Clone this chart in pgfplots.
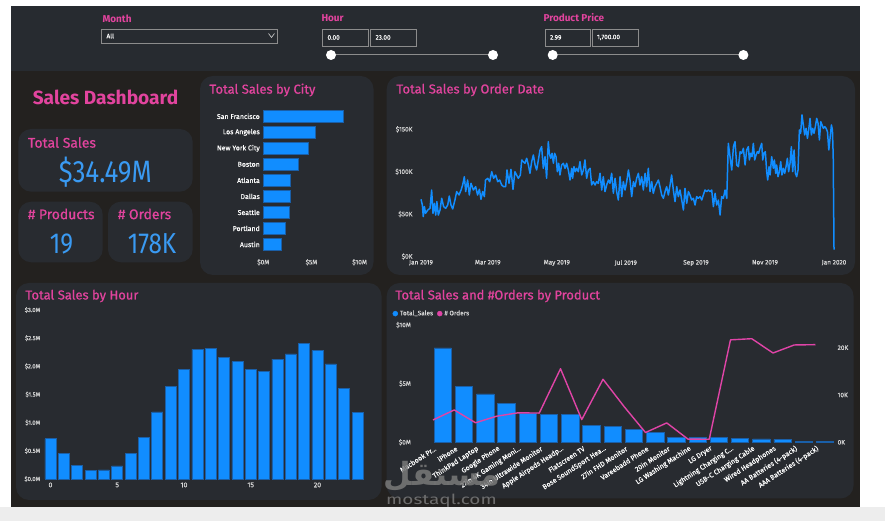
\documentclass[border=0pt]{standalone}
\usepackage{pgfplots}
\pgfplotsset{compat=1.18}
\usepackage{fontspec}
\setmainfont{Fira Sans}
\newfontfamily\titlefont[FakeBold=0.7]{Fira Sans}
\newfontfamily\tickfont[FakeBold=0.35]{Fira Sans}
\newfontfamily\arabicfont[Script=Arabic]{DejaVu Sans}
\TeXXeTstate=1
\definecolor{outerbg}{HTML}{EDEDED}
\definecolor{mainbg}{HTML}{23211F}
\definecolor{topbg}{HTML}{272B30}
\definecolor{cardbg}{HTML}{282B30}
\definecolor{pbipink}{HTML}{E044A7}
\definecolor{ttlpink}{HTML}{E2449E}
\definecolor{pbiblue}{HTML}{118DFF}
\definecolor{kpiblue}{HTML}{3A9AF2}
\definecolor{barline}{HTML}{1A5FA8}
\definecolor{lbl}{HTML}{D6D6D6}
\definecolor{boxline}{HTML}{8C8C8C}
\definecolor{wmark}{HTML}{7A7A7A}
\newcommand{\tdots}{.{}.{}.}
\pgfplotsset{
  dstyle/.style={
    scale only axis,
    anchor=south west,
    axis line style={draw=none},
    major tick length=0pt,
    tick style={draw=none},
    /pgf/number format/assume math mode=true,
    tick label style={font=\tickfont\fontsize{6.5}{7}\selectfont, text=lbl},
    enlargelimits=false,
    clip=false,
  }
}
\begin{document}
\begin{tikzpicture}
\begin{scope}[x=1bp,y=1bp]
\path[use as bounding box] (0,0) rectangle (885,521);
\fill[white] (0,0) rectangle (885,521);
\fill[outerbg] (0,0) rectangle (885,14);
\fill[mainbg] (11,14) rectangle (860,515);
\fill[topbg] (11,450) rectangle (860,515);
% filters
\node[anchor=west, text=ttlpink, font=\bfseries\fontsize{10}{11}\selectfont] at (99,502) {Month};
\draw[boxline, fill=topbg, line width=0.7bp] (101.5,478) rectangle (277.5,492);
\node[anchor=west, text=white, font=\tickfont\fontsize{6.5}{7}\selectfont] at (103,485) {All};
\draw[lbl, line width=0.6bp] (268.5,487.5) -- (271.5,483.5) -- (274.5,487.5);
\node[anchor=west, text=ttlpink, font=\bfseries\fontsize{10}{11}\selectfont] at (318,503) {Hour};
\draw[boxline, line width=0.7bp] (322.6,475) rectangle (368.3,492);
\draw[boxline, line width=0.7bp] (370.6,475) rectangle (416.8,492);
\node[anchor=west, text=white, font=\tickfont\fontsize{6.5}{7}\selectfont] at (324,483.5) {0.00};
\node[anchor=west, text=white, font=\tickfont\fontsize{6.5}{7}\selectfont] at (372,483.5) {23.00};
\draw[boxline, line width=1bp] (331,466) -- (493,466);
\fill[white] (331,466) circle (5); \fill[white] (493,466) circle (5);
\node[anchor=west, text=ttlpink, font=\bfseries\fontsize{10}{11}\selectfont] at (540,503) {Product Price};
\draw[boxline, line width=0.7bp] (545,475) rectangle (590,492);
\draw[boxline, line width=0.7bp] (592,475) rectangle (638.5,492);
\node[anchor=west, text=white, font=\tickfont\fontsize{6.5}{7}\selectfont] at (546.5,483.5) {2.99};
\node[anchor=west, text=white, font=\tickfont\fontsize{6.5}{7}\selectfont] at (593.5,483.5) {1,700.00};
\draw[boxline, line width=1bp] (552.7,466) -- (743.4,466);
\fill[white] (552.7,466) circle (5); \fill[white] (743.4,466) circle (5);
% cards
\fill[cardbg, rounded corners=13bp] (18.3,329.3) rectangle (192.7,392);
\fill[cardbg, rounded corners=13bp] (18.3,258.7) rectangle (102.7,319.3);
\fill[cardbg, rounded corners=13bp] (108,258.7) rectangle (192.7,319.3);
\fill[cardbg, rounded corners=13bp] (200,246) rectangle (373.5,445);
\fill[cardbg, rounded corners=13bp] (386.7,246) rectangle (855,445);
\fill[cardbg, rounded corners=13bp] (16,21) rectangle (381.5,238);
\fill[cardbg, rounded corners=13bp] (386.7,22.5) rectangle (853.5,238);
% KPI texts
\node[text=ttlpink, font=\bfseries\fontsize{19.2}{21}\selectfont] at (105.5,423.5) {Sales Dashboard};
\node[anchor=west, text=ttlpink, font=\titlefont\fontsize{14}{16}\selectfont] at (24.5,378.5) {Total Sales};
\node[text=kpiblue, font=\fontsize{31}{33}\selectfont] at (105.3,349) {\scalebox{0.84}[1]{\$34.49M}};
\node[anchor=west, text=ttlpink, font=\titlefont\fontsize{14}{16}\selectfont] at (24.5,307) {\# Products};
\node[text=kpiblue, font=\fontsize{29}{31}\selectfont] at (61.5,277) {\scalebox{0.84}[1]{19}};
\node[anchor=west, text=ttlpink, font=\titlefont\fontsize{14}{16}\selectfont] at (114.5,307) {\# Orders};
\node[text=kpiblue, font=\fontsize{29}{31}\selectfont] at (152,277) {\scalebox{0.84}[1]{178K}};
% chart titles
\node[anchor=west, text=ttlpink, font=\titlefont\fontsize{13}{15}\selectfont] at (206,431) {Total Sales by City};
\node[anchor=west, text=ttlpink, font=\titlefont\fontsize{13}{15}\selectfont] at (393,431) {Total Sales by Order Date};
\node[anchor=west, text=ttlpink, font=\titlefont\fontsize{13}{15}\selectfont] at (22,225) {Total Sales by Hour};
\node[anchor=west, text=ttlpink, font=\titlefont\fontsize{13}{15}\selectfont] at (392,225) {Total Sales and \#Orders by Product};
\end{scope}

% City
\begin{axis}[dstyle, at={(263.3bp,268.5bp)}, width=96.3bp, height=144.2bp,
  xmin=0, xmax=10, ymin=-0.5, ymax=8.5,
  xbar, bar width=12.5bp,
  ytick={0,1,2,3,4,5,6,7,8},
  yticklabels={Austin,Portland,Seattle,Dallas,Atlanta,Boston,New York City,Los Angeles,San Francisco},
  xtick={0,5,10}, xticklabels={\$0M,\$5M,\$10M},
  xticklabel style={yshift=-3bp},
  yticklabel style={font=\tickfont\fontsize{7}{8}\selectfont, text=white},
]
\addplot[fill=pbiblue, draw=barline, line width=0.6bp] coordinates {(1.82,0) (2.32,1) (2.75,2) (2.77,3) (2.80,4) (3.66,5) (4.66,6) (5.45,7) (8.26,8)};
\end{axis}

% Order date
\begin{axis}[dstyle, at={(421bp,264.5bp)}, width=413bp, height=148.4bp,
  xmin=0, xmax=365, ymin=0, ymax=175,
  xtick={0,59,120,181,243,304,365},
  xticklabels={Jan 2019,Mar 2019,May 2019,Jul 2019,Sep 2019,Nov 2019,Jan 2020},
  ytick={0,50,100,150}, yticklabels={\$0K,\$50K,\$100K,\$150K},
  yticklabel style={xshift=-5bp},
]
\addplot[pbiblue, line width=1.5bp, line join=round] table {
0 67.4
1.2 60.7
2 47
3 58.8
4 50.9
6 54.8
8 56.8
9.4 78.4
10.6 50.9
11.8 62.7
13 48.9
14 64.7
15.3 48.9
16.8 54.8
18.3 68.6
20 58.8
21.8 56.8
23.6 60.7
25 71.3
26.5 60.7
28 56
30 66.6
31.5 76.5
33.6 72.5
35.4 78.4
36.8 84.3
38.3 94.1
39.5 76.5
41.2 90.2
42.7 72.5
44.2 86.3
46.3 78.4
48.3 82.3
50 72.5
51.6 79.2
53 67.4
54.5 76.5
56 70.6
57 90.2
59 92.2
60.7 88.2
62.5 100
64.2 92.2
66 96.1
67.8 88.2
69.5 90.2
71.3 84.3
73 82.3
74.8 82.3
76 102
77.8 86.3
79.5 102.8
81.3 79.2
83 100
84.5 96.1
86 92.2
87.8 96.1
89 113.8
90.4 111.8
91.9 109.9
93.4 115.8
94.9 107.9
96.3 98.1
97.8 111.8
99.3 119.7
100.8 107.9
102.2 102
103.7 113.8
105.2 125.6
106.6 129.5
108.1 104
109.6 117.7
111 92.2
112.5 135.4
113.4 121.7
114.6 115.8
115.8 121.7
117 109.9
118.1 121.7
119.3 117.7
120.5 100
121.7 109.9
122.8 96.1
124.3 107.9
125.8 109.9
127.3 104
128.7 109.9
130.2 102
131.7 90.2
133.2 104
134 92.2
135.2 105.9
136.4 100
137.6 104
139 100
140.5 111.8
142 96.1
143.5 102
144.9 113.8
146.4 92.2
147.9 102
149.4 104
150.8 84.3
152.3 88.2
153.8 84.3
155.2 88.2
156.7 86.3
158.2 98.1
159.7 78.4
161.1 94.1
162.6 76.5
164.1 84.3
165.6 90.2
167 86.3
168.5 98.1
170 74.5
171.5 92.2
172.9 76.5
174.4 66.6
175.9 94.1
177.4 70.6
178.8 88.2
180.3 78.4
181.8 88.2
183.3 102
184.7 90.2
186.2 70.6
187.7 88.2
189.1 82.3
190.6 92.2
192.1 98.1
193.5 84.3
195 94.1
196.5 78.4
198 98.1
199.4 82.3
200.9 104
202.4 76.5
203.9 88.2
205.3 74.5
206.8 82.3
208.3 86.3
209.8 90.2
211.2 82.3
212.7 72.5
214.2 68.6
215.7 76.5
217.1 82.3
218.6 72.5
220.1 84.3
221.5 96.1
223 78.4
224.5 64.7
226 82.3
227.4 70.6
228.9 78.4
230.4 66.6
231.9 54.8
233.3 80.4
234.8 62.7
236.3 76.5
237.7 72.5
239.2 66.6
240.7 68.6
242.2 60.7
243.6 70.6
245.1 68.6
246.6 70.6
248.1 66.6
249.5 72.5
251 78.4
252.5 76.5
254 78.4
255.4 76.5
256.9 78.4
258.4 58.8
259.9 74.5
261.3 60.7
262.8 66.6
264.3 48.9
265.7 70.6
267.2 68.6
268.7 78.4
270.2 68.6
271.6 133.4
273.1 117.7
274.6 102
276.1 129.5
277.5 135.4
279 107.9
280.5 105.9
282 123.6
283.4 121.7
284.9 127.6
286.4 107.9
287.8 125.6
289.3 129.5
290.2 113.8
291.4 121.7
292.5 117.7
293.7 133.4
294.9 113.8
296.1 119.7
297.3 123.6
298.4 121.7
299.6 127.6
301.1 133.4
302 113.8
303.1 121.7
304.3 123.6
305.5 100
306.4 90.2
307.6 105.9
308.5 96.1
309.9 117.7
311.4 104
312.3 113.8
313.5 98.1
314.3 107.9
315.5 94.1
316.7 100
317.9 111.8
319 96.1
320.2 104
321.4 98.1
322.6 105.9
323.8 115.8
324.9 100
326.1 109.9
327.3 129.5
328.5 100
329.7 125.6
330.9 98.1
332 94.1
333.2 102
334.4 149.2
335.5 145.3
336.7 166.9
337.9 155.1
339.1 143.3
340.3 151.1
341.5 139.3
342.6 149.2
343.8 162.9
345 143.3
346.2 151.1
347.3 145.3
348.5 153.1
349.7 162.9
350.9 157
352.1 137.4
353.3 159
354.4 155.1
355.6 151.1
356.8 153.1
358 151.1
359.2 147.2
360.4 125.6
361.5 139.3
362.7 155.1
363.6 149.2
364.3 118
365 8
};
\end{axis}

% Hour
\begin{axis}[dstyle, at={(43.8bp,42bp)}, width=320.4bp, height=169bp,
  xmin=-0.5, xmax=23.5, ymin=0, ymax=3,
  ybar, bar width=11bp,
  xtick={0,5,10,15,20},
  ytick={0,0.5,1,1.5,2,2.5,3}, yticklabels={\$0.0M,\$0.5M,\$1.0M,\$1.5M,\$2.0M,\$2.5M,\$3.0M},
  yticklabel style={font=\tickfont\fontsize{6}{7}\selectfont},
  xticklabel style={font=\tickfont\fontsize{7}{8}\selectfont},
]
\addplot[fill=pbiblue, draw=barline, line width=0.6bp] coordinates {
(0,0.714) (1,0.461) (2,0.235) (3,0.146) (4,0.163) (5,0.231) (6,0.448) (7,0.745)
(8,1.192) (9,1.639) (10,1.944) (11,2.301) (12,2.317) (13,2.155) (14,2.084) (15,1.942)
(16,1.905) (17,2.129) (18,2.219) (19,2.413) (20,2.282) (21,2.042) (22,1.608) (23,1.179)};
\end{axis}

% Product (sales)
\begin{axis}[dstyle, at={(422.4bp,78.7bp)}, width=403.7bp, height=117.3bp,
  xmin=-0.5, xmax=18.5, ymin=0, ymax=10,
  ybar, bar width=17.3bp,
  xtick={0,1,2,3,4,5,6,7,8,9,10,11,12,13,14,15,16,17,18},
  xticklabels={{Macbook Pr\tdots},{iPhone},{ThinkPad Laptop},{Google Phone},{27in 4K Gaming Moni\tdots},{34in Ultrawide Monitor},{Apple Airpods Headp\tdots},{Flatscreen TV},{Bose SoundSport Hea\tdots},{27in FHD Monitor},{Vareebadd Phone},{20in Monitor},{LG Washing Machine},{LG Dryer},{Lightning Charging C\tdots},{USB-C Charging Cable},{Wired Headphones},{AA Batteries (4-pack)},{AAA Batteries (4-pack)}},
  xticklabel style={rotate=33, anchor=east, font=\tickfont\fontsize{7}{8}\selectfont, text=white, inner sep=1bp, xshift=0bp, yshift=-6bp},
  ytick={0,5,10}, yticklabels={\$0M,\$5M,\$10M},
  yticklabel style={xshift=-8bp},
  legend style={at={(axis description cs:0,1)}, anchor=south west, xshift=-30bp, yshift=6bp,
    draw=none, fill=none, font=\tickfont\fontsize{6.5}{7}\selectfont, text=lbl, legend columns=2,
    inner sep=0pt, /tikz/every even column/.append style={column sep=2bp}},
  legend cell align=left,
]
\addplot[forget plot, fill=pbiblue, draw=barline, line width=0.6bp] coordinates {
(0,8.04) (1,4.79) (2,4.13) (3,3.32) (4,2.44) (5,2.36) (6,2.35) (7,1.45) (8,1.35) (9,1.13)
(10,0.83) (11,0.45) (12,0.40) (13,0.39) (14,0.35) (15,0.29) (16,0.25) (17,0.11) (18,0.09)};
\addlegendimage{legend image code/.code={\fill[pbiblue] (2.5bp,0bp) circle (2.5bp);}}
\addlegendentry{Total\_Sales}
\addlegendimage{legend image code/.code={\fill[pbipink] (2.5bp,0bp) circle (2.5bp);}}
\addlegendentry{\# Orders}
\end{axis}

% Product (orders)
\begin{axis}[dstyle, at={(422.4bp,78.7bp)}, width=403.7bp, height=117.3bp,
  xmin=-0.5, xmax=18.5, ymin=0, ymax=24.8,
  axis y line*=right, xtick=\empty,
  ytick={0,10,20}, yticklabels={0K,10K,20K},
  yticklabel style={anchor=west, xshift=8bp},
]
\addplot[pbipink, line width=1.4bp, line join=round] coordinates {
(0,4.724) (1,6.842) (2,4.128) (3,5.525) (4,6.230) (5,6.181) (6,15.549) (7,4.800) (8,13.325) (9,7.507)
(10,2.065) (11,4.101) (12,0.666) (13,0.646) (14,21.658) (15,21.903) (16,18.882) (17,20.577) (18,20.641)};
\end{axis}

\begin{scope}[x=1bp,y=1bp]
\node[text=wmark, opacity=0.85, font=\arabicfont\bfseries\fontsize{32}{34}\selectfont] at (442,45) {\beginR مستقل\endR};
\node[text=wmark, opacity=0.85, font=\fontsize{14}{15}\selectfont] at (441.5,20) {\scalebox{1.36}[1]{mostaql.com}};
\end{scope}
\end{tikzpicture}
\end{document}
